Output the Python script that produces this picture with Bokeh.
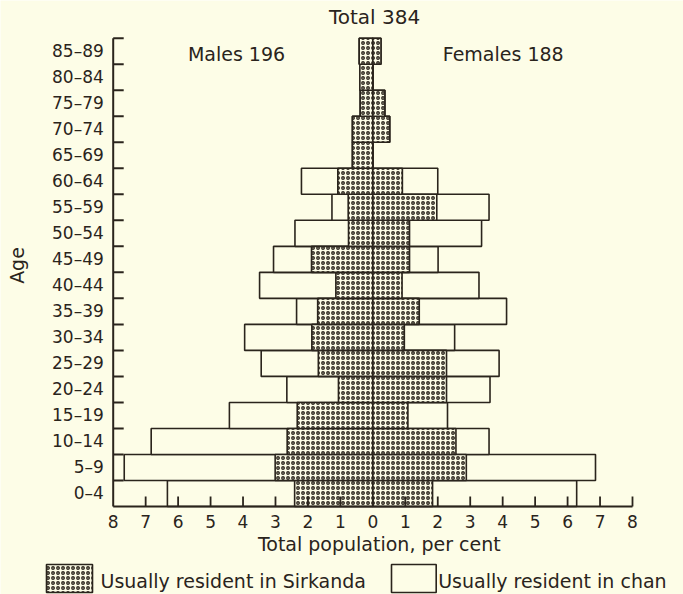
import math
from bokeh.plotting import figure
from bokeh.models import Range1d, ColumnDataSource
from bokeh.core.properties import value
from bokeh.embed import file_html
from bokeh.resources import INLINE

# ---------------- data (per cent of total population, 384 persons) ----------------
age_groups = ["0–4", "5–9", "10–14", "15–19", "20–24", "25–29", "30–34", "35–39",
              "40–44", "45–49", "50–54", "55–59", "60–64", "65–69", "70–74",
              "75–79", "80–84", "85–89"]
male_total = [6.33, 7.66, 6.83, 4.42, 2.65, 3.44, 3.95, 2.35, 3.49, 3.06, 2.40, 1.26,
              2.20, 0.63, 0.63, 0.39, 0.40, 0.42]
male_sirkanda = [2.41, 3.01, 2.64, 2.33, 1.06, 1.68, 1.88, 1.70, 1.14, 1.89, 0.75, 0.76,
                 1.08, 0.63, 0.63, 0.39, 0.40, 0.42]
female_sirkanda = [1.84, 2.88, 2.56, 1.08, 2.27, 2.27, 0.97, 1.43, 0.90, 1.13, 1.13, 1.97,
                   0.91, 0.0, 0.52, 0.37, 0.0, 0.25]
female_total = [6.28, 6.86, 3.58, 2.30, 3.61, 3.89, 2.52, 4.12, 3.27, 2.01, 3.35, 3.58,
                2.00, 0.0, 0.52, 0.37, 0.0, 0.25]
tick_values = list(range(-8, 9))
tick_labels = [str(abs(v)) for v in tick_values]
title_text = "Total 384"
males_text = "Males 196"
females_text = "Females 188"
x_title = "Total population, per cent"
y_title = "Age"
legend_labels = ["Usually resident in Sirkanda", "Usually resident in chan"]

# ---------------- layout ----------------
W, H = 683, 594
X0_PX, PX_PER_X = 372.35, 32.456
Y0_PX, PX_PER_Y = 506.0, 26.017
BG = "#fdfde7"
DARK = "#2a241c"
FONT = "DejaVu Sans"


def dx(px):
    return (px - X0_PX) / PX_PER_X


def dy(py):
    return (Y0_PX - py) / PX_PER_Y


p = figure(width=W, height=H,
           x_range=Range1d(dx(0), dx(W)), y_range=Range1d(dy(H), dy(0)),
           output_backend="svg", toolbar_location=None, min_border=0,
           x_axis_type=None, y_axis_type=None)
p.outline_line_color = None
p.background_fill_color = BG
p.border_fill_color = BG

n = len(age_groups)
bottoms = list(range(n))
tops = [b + 1 for b in bottoms]

bars = ColumnDataSource(dict(
    bottom=bottoms, top=tops,
    m_tot=[-v for v in male_total], m_sir=[-v for v in male_sirkanda],
    f_tot=female_total, f_sir=female_sirkanda, zero=[0] * n,
))

# open (total) bars
p.quad(left="m_tot", right="zero", bottom="bottom", top="top", source=bars,
       fill_color=BG, line_color=DARK, line_width=1.6)
p.quad(left="zero", right="f_tot", bottom="bottom", top="top", source=bars,
       fill_color=BG, line_color=DARK, line_width=1.6)
# stippled (resident in Sirkanda) bars
stip = dict(fill_color=BG, line_color=DARK, line_width=1.6,
            hatch_pattern="ring", hatch_scale=5, hatch_color=DARK, hatch_weight=1.3)
p.quad(left="m_sir", right="zero", bottom="bottom", top="top", source=bars, **stip)
p.quad(left="zero", right="f_sir", bottom="bottom", top="top", source=bars, **stip)

# axes drawn through the data scales
p.segment(x0=[-8, -8], y0=[0, 0], x1=[-8, 8], y1=[n, 0], line_color=DARK, line_width=2)
ytick_len = 10.5 / PX_PER_X
p.segment(x0=[-8] * n, y0=tops, x1=[-8 + ytick_len] * n, y1=tops,
          line_color=DARK, line_width=2)
xt = [v for v in tick_values if v != -8]
xtick_len = 10 / PX_PER_Y
p.segment(x0=xt, y0=[0] * len(xt), x1=xt, y1=[xtick_len] * len(xt),
          line_color=DARK, line_width=1.8)

p.text(x=tick_values, y=[dy(520.7)] * len(tick_values), text=tick_labels,
       text_font=value(FONT), text_font_size="17px", text_color=DARK,
       text_align="center", text_baseline="middle")
p.text(x=[dx(103.3)] * n, y=[b + 0.5 for b in bottoms], text=age_groups,
       text_font=value(FONT), text_font_size="17px", text_color=DARK,
       text_align="right", text_baseline="middle")

p.text(x=[dx(378.8)], y=[dy(543)], text=[x_title], text_font=value(FONT),
       text_font_size="19px", text_color=DARK, text_align="center", text_baseline="middle")
p.text(x=[dx(16)], y=[dy(265)], text=[y_title], angle=math.pi / 2, text_font=value(FONT),
       text_font_size="19px", text_color=DARK, text_align="center", text_baseline="middle")
p.text(x=[dx(374)], y=[dy(16)], text=[title_text], text_font=value(FONT),
       text_font_size="20px", text_color=DARK, text_align="center", text_baseline="middle")
p.text(x=[dx(236), dx(502.7)], y=[dy(53), dy(53)], text=[males_text, females_text],
       text_font=value(FONT), text_font_size="19px", text_color=DARK,
       text_align="center", text_baseline="middle")

# legend
p.quad(left=[dx(46)], right=[dx(92)], bottom=[dy(592)], top=[dy(564)], **stip)
p.quad(left=[dx(391)], right=[dx(435.7)], bottom=[dy(592)], top=[dy(564)],
       fill_color=BG, line_color=DARK, line_width=1.6)
p.text(x=[dx(100), dx(437.7)], y=[dy(580), dy(580)], text=legend_labels,
       text_font=value(FONT), text_font_size="19px", text_color=DARK,
       text_align="left", text_baseline="middle")

open("out.html", "w").write(file_html(p, INLINE))
